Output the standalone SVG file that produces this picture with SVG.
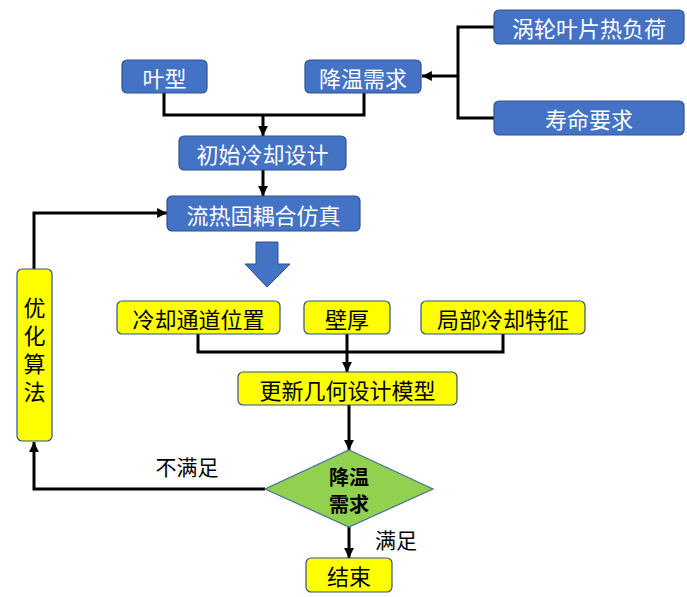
<svg xmlns="http://www.w3.org/2000/svg" width="687" height="597" viewBox="0 0 687 597">
<defs>
<marker id="ah" viewBox="0 0 10 10" refX="10" refY="5" markerWidth="3.3" markerHeight="3.3" orient="auto" markerUnits="strokeWidth">
<path d="M0,0 L10,5 L0,10 z" fill="#000"/>
</marker>
</defs>
<style>
.b{fill:#4472C4;stroke:#2F528F;stroke-width:1.2}
.y{fill:#FFFF00;stroke:#2F528F;stroke-width:1.2}
.tw{font-family:"Noto Sans CJK SC","Noto Sans",sans-serif;font-size:22px;fill:#fff;text-anchor:middle;dominant-baseline:central}
.tk{font-family:"Noto Sans CJK SC","Noto Sans",sans-serif;font-size:22px;fill:#000;text-anchor:middle;dominant-baseline:central}
.ln{fill:none;stroke:#000;stroke-width:3}
.ar{fill:none;stroke:#000;stroke-width:3;marker-end:url(#ah)}
</style>
<rect width="687" height="597" fill="#fff"/>
<g id="connectors">
<polyline class="ln" points="494,27 458,27 458,118 494,118"/>
<line class="ar" x1="458" y1="76" x2="422" y2="76"/>
<polyline class="ln" points="164,93 164,115 364,115 364,93"/>
<line class="ar" x1="263" y1="115" x2="263" y2="136"/>
<line class="ar" x1="263" y1="170" x2="263" y2="196"/>
<polyline class="ln" points="198,334 198,352 503,352 503,334"/>
<line class="ar" x1="347" y1="334" x2="347" y2="372"/>
<line class="ar" x1="349" y1="405" x2="349" y2="450"/>
<line class="ar" x1="349" y1="527" x2="349" y2="558"/>
<polyline class="ar" points="265,489 34,489 34,442"/>
<polyline class="ar" points="34,269 34,213 167,213"/>
<text class="tk" x="187" y="466" style="font-size:21px">不满足</text>
<text class="tk" x="396" y="539" style="font-size:21px">满足</text>
</g>
<g id="n_load"><rect class="b" x="494" y="10" width="190" height="34" rx="5"/><text class="tw" x="589" y="27">涡轮叶片热负荷</text></g>
<g id="n_blade"><rect class="b" x="122" y="60" width="85" height="33" rx="5"/><text class="tw" x="164.5" y="76.5">叶型</text></g>
<g id="n_cool"><rect class="b" x="305" y="60" width="116" height="33" rx="5"/><text class="tw" x="363" y="76.5">降温需求</text></g>
<g id="n_life"><rect class="b" x="494" y="101" width="190" height="34" rx="5"/><text class="tw" x="589" y="118">寿命要求</text></g>
<g id="n_init"><rect class="b" x="179" y="136" width="167" height="34" rx="5"/><text class="tw" x="262.5" y="153">初始冷却设计</text></g>
<g id="n_sim"><rect class="b" x="167" y="196" width="193" height="35" rx="5"/><text class="tw" x="263.5" y="213.5">流热固耦合仿真</text></g>
<g id="n_bigarrow"><path d="M256,242 L278,242 L278,264 L290,264 L267,287 L245,264 L256,264 z" fill="#4472C4" stroke="#2F528F" stroke-width="1"/></g>
<g id="n_channel"><rect class="y" x="117" y="301" width="163" height="33" rx="5"/><text class="tk" x="198.5" y="317.5">冷却通道位置</text></g>
<g id="n_wall"><rect class="y" x="304" y="301" width="86" height="33" rx="5"/><text class="tk" x="347" y="317.5">壁厚</text></g>
<g id="n_local"><rect class="y" x="421" y="301" width="164" height="33" rx="5"/><text class="tk" x="503" y="317.5">局部冷却特征</text></g>
<g id="n_update"><rect class="y" x="238" y="372" width="219" height="33" rx="5"/><text class="tk" x="347.5" y="388.5">更新几何设计模型</text></g>
<g id="n_opt"><rect class="y" x="17" y="269" width="35" height="172" rx="5"/>
<text x="34.5" y="353" style="font-family:'Noto Sans CJK SC','Noto Sans',sans-serif;font-size:22px;fill:#000;writing-mode:vertical-rl;text-anchor:middle;letter-spacing:6px">优化算法</text></g>
<g id="n_decide"><polygon points="349,450 433,489 349,527 265,489" fill="#92D050" stroke="#41719C" stroke-width="1.2"/>
<text class="tk" x="349" y="476" style="font-size:20px;font-weight:bold"><tspan x="349" y="476">降温</tspan><tspan x="349" y="503">需求</tspan></text></g>
<g id="n_end"><rect class="y" x="306" y="558" width="86" height="34" rx="5"/><text class="tk" x="349" y="575">结束</text></g>
</svg>
